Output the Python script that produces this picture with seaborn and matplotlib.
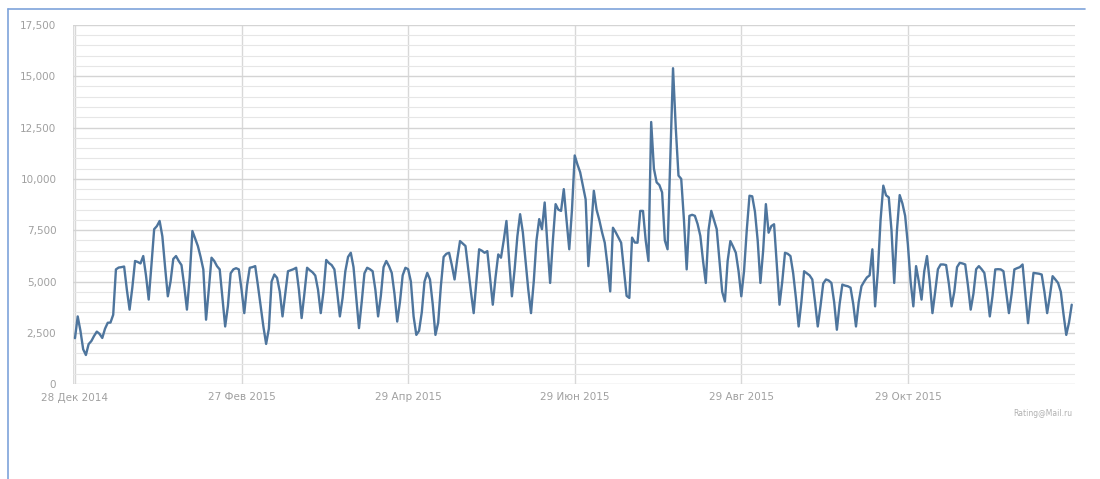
import pandas as pd
import matplotlib.pyplot as plt
from matplotlib.ticker import MultipleLocator, FuncFormatter
from matplotlib.lines import Line2D
import seaborn as sns

# daily visitors, one row per week (Sun..Sat), starting Sun 28 Dec 2014
visits = [
    2240, 3300, 2600, 1700, 1420, 1950, 2100,
    2350, 2560, 2450, 2250, 2700, 2990, 3000,
    3380, 5590, 5680, 5700, 5730, 4600, 3630,
    4700, 6000, 5950, 5880, 6240, 5300, 4120,
    5800, 7550, 7700, 7950, 7200, 5700, 4280,
    5000, 6100, 6240, 6000, 5800, 4800, 3630,
    5200, 7460, 7100, 6730, 6200, 5590, 3140,
    4600, 6160, 6000, 5750, 5590, 4200, 2810,
    3800, 5400, 5590, 5650, 5590, 4600, 3460,
    4800, 5670, 5700, 5750, 4800, 3800, 2800,
    1960, 2700, 5000, 5340, 5180, 4500, 3300,
    4400, 5500, 5550, 5600, 5670, 4600, 3220,
    4400, 5670, 5550, 5450, 5290, 4600, 3460,
    4500, 6050, 5900, 5800, 5590, 4500, 3300,
    4200, 5500, 6200, 6400, 5700, 4200, 2730,
    4000, 5400, 5670, 5600, 5500, 4600, 3300,
    4300, 5700, 6000, 5750, 5420, 4400, 3050,
    4000, 5300, 5670, 5600, 5000, 3300, 2400,
    2600, 3500, 5000, 5420, 5100, 3900, 2400,
    3000, 4800, 6200, 6350, 6400, 5800, 5100,
    6100, 6970, 6850, 6730, 5600, 4500, 3460,
    5000, 6570, 6500, 6400, 6480, 5200, 3870,
    5200, 6320, 6160, 7000, 7950, 6000, 4280,
    5600, 7200, 8280, 7400, 6000, 4600, 3460,
    5000, 7000, 8040, 7550, 8850, 6800, 4930,
    7000, 8770, 8500, 8440, 9500, 8000, 6570,
    8500, 11140, 10700, 10320, 9670, 9000, 5750,
    7500, 9420, 8500, 8000, 7400, 6890, 5800,
    4520, 7620, 7400, 7150, 6890, 5600, 4300,
    4200, 7140, 6900, 6890, 8440, 8440, 7000,
    6000, 12770, 10500, 9830, 9700, 9340, 7000,
    6570, 11000, 15390, 12500, 10160, 10000, 8000,
    5590, 8200, 8250, 8200, 7800, 7220, 6000,
    4930, 7500, 8440, 8000, 7550, 6000, 4500,
    4030, 6000, 6970, 6700, 6400, 5500, 4280,
    5500, 7500, 9180, 9150, 8400, 7000, 4930,
    6500, 8770, 7380, 7700, 7790, 5800, 3870,
    5000, 6400, 6350, 6240, 5400, 4200, 2810,
    4000, 5500, 5400, 5300, 5100, 4000, 2810,
    3800, 4900, 5100, 5050, 4930, 4000, 2650,
    3900, 4850, 4800, 4770, 4700, 3900, 2810,
    4000, 4770, 5000, 5200, 5300, 6570, 3790,
    5500, 8000, 9670, 9200, 9100, 7500, 4930,
    7500, 9210, 8800, 8200, 6800, 5000, 3790,
    5750, 5000, 4120, 5500, 6240, 5000, 3460,
    4500, 5600, 5830, 5830, 5800, 4900, 3790,
    4500, 5700, 5910, 5880, 5830, 4800, 3630,
    4400, 5600, 5750, 5600, 5420, 4500, 3300,
    4300, 5590, 5600, 5590, 5500, 4500, 3460,
    4400, 5590, 5650, 5700, 5830, 4400, 2970,
    4200, 5420, 5400, 5380, 5340, 4500, 3460,
    4300, 5260, 5100, 4930, 4500, 3400, 2400,
    3000, 3870,
]
start_date = "2014-12-28"

tick_dates = ["2014-12-28", "2015-02-27", "2015-04-29", "2015-06-29", "2015-08-29", "2015-10-29"]
tick_labels = ["28 Дек 2014", "27 Фев 2015", "29 Апр 2015", "29 Июн 2015", "29 Авг 2015", "29 Окт 2015"]

df = pd.DataFrame({
    "date": pd.date_range(start_date, periods=len(visits), freq="D"),
    "visits": visits,
})

sns.set_style("white")
plt.rcParams["font.family"] = ["DejaVu Sans"]

fig = plt.figure(figsize=(11, 4.79), dpi=100)
ax = fig.add_axes([0.0664, 0.198, 0.911, 0.750])

sns.lineplot(data=df, x="date", y="visits", ax=ax, color="#4e759d", linewidth=1.7)

ax.set_ylim(0, 17500)
ax.set_xlim(pd.Timestamp(start_date) - pd.Timedelta(hours=17), df["date"].iloc[-1] + pd.Timedelta(hours=30))
ax.yaxis.set_major_locator(MultipleLocator(2500))
ax.yaxis.set_minor_locator(MultipleLocator(500))
ax.yaxis.set_major_formatter(FuncFormatter(lambda v, p: f"{int(v):,}"))
ax.set_xticks(pd.to_datetime(tick_dates))
ax.set_xticklabels(tick_labels)

ax.grid(which="major", axis="y", color="#d4d4d4", linewidth=1)
ax.grid(which="minor", axis="y", color="#e6e6e6", linewidth=0.8)
ax.grid(which="major", axis="x", color="#d8d8d8", linewidth=1)
ax.set_axisbelow(True)
for s in ax.spines.values():
    s.set_visible(False)
ax.axvline(ax.get_xlim()[0], color="#dcdcdc", linewidth=1, zorder=0)

ax.tick_params(axis="both", which="both", length=0, labelsize=7.5, labelcolor="#a0a0a0")
ax.tick_params(axis="y", pad=12)
ax.tick_params(axis="x", pad=6)
ax.set_xlabel("")
ax.set_ylabel("")

fig.text(0.975, 0.137, "Rating@Mail.ru", ha="right", va="center", fontsize=5.5, color="#b0b0b0")

# blue frame at the top and left
fig.add_artist(Line2D([0.0073, 0.986], [0.981, 0.981], color="#7ea3da", linewidth=1.2))
fig.add_artist(Line2D([0.0073, 0.0073], [0.0, 0.981], color="#7ea3da", linewidth=1.2))

plt.savefig("out.png", dpi=100)
plt.close()
